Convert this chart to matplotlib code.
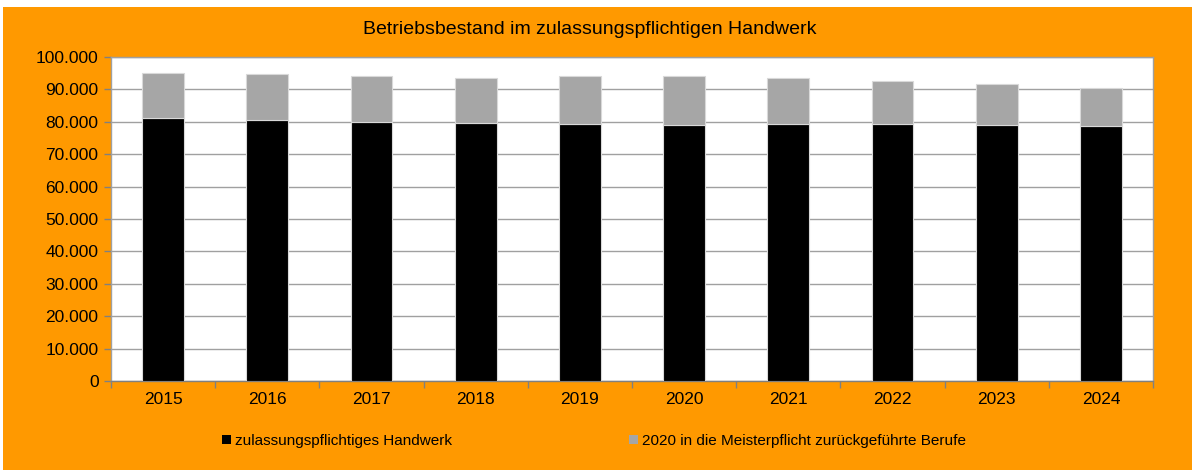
import matplotlib
matplotlib.use("Agg")
import matplotlib.pyplot as plt
from matplotlib.patches import Rectangle, Patch
from matplotlib.ticker import FuncFormatter, MultipleLocator

plt.rcParams['font.family'] = ['Liberation Sans', 'DejaVu Sans']

years = ['2015', '2016', '2017', '2018', '2019', '2020', '2021', '2022', '2023', '2024']
zulassungspflichtig = [81300, 80500, 80000, 79600, 79450, 79150, 79300, 79300, 79100, 78600]
gesamt = [95000, 94600, 94000, 93600, 94100, 94100, 93500, 92600, 91700, 90500]
zurueckgefuehrt = [g - z for g, z in zip(gesamt, zulassungspflichtig)]

title = 'Betriebsbestand im zulassungspflichtigen Handwerk'
label_a = 'zulassungspflichtiges Handwerk'
label_b = '2020 in die Meisterpflicht zurückgeführte Berufe'

ORANGE = '#FF9900'
GREY = '#A6A6A6'
W, H = 1192, 473
fig = plt.figure(figsize=(W / 100, H / 100), dpi=100, facecolor='white')
fig.patches.append(Rectangle((3 / W, 3 / H), (W - 3) / W, (H - 10) / H,
                             transform=fig.transFigure, facecolor=ORANGE,
                             edgecolor='none', zorder=-10))

ax = fig.add_axes([111 / W, (H - 381) / H, (1153 - 111) / W, (381 - 57) / H])
ax.set_zorder(5)
ax.set_facecolor('white')
x = list(range(len(years)))
ax.bar(x, zulassungspflichtig, width=0.4, color='black', edgecolor='#D9D9D9',
       linewidth=0.8, zorder=3)
ax.bar(x, zurueckgefuehrt, width=0.4, bottom=zulassungspflichtig, color=GREY,
       edgecolor='#D9D9D9', linewidth=0.8, zorder=3)

ax.set_xlim(-0.5, len(years) - 0.5)
ax.set_ylim(0, 100000)
ax.yaxis.set_major_locator(MultipleLocator(10000))
ax.yaxis.set_major_formatter(FuncFormatter(lambda v, p: f'{int(v):,}'.replace(',', '.')))
ax.grid(axis='y', color='#A0A0A0', linewidth=1.0, zorder=1)
ax.set_axisbelow(True)

ax.set_xticks(x)
ax.set_xticklabels(years)
ax.tick_params(axis='x', length=0, labelsize=12.5, pad=8)
ax.set_xticks([i - 0.5 for i in range(len(years) + 1)], minor=True)
ax.tick_params(axis='x', which='minor', length=5, color='#808080', width=1)
ax.tick_params(axis='y', length=5, color='#808080', width=1, labelsize=12.5, pad=4)

for s in ax.spines.values():
    s.set_color('#A0A0A0')
    s.set_linewidth(1.0)
ax.spines['bottom'].set_color('#808080')

fig.text(590 / W, 1 - 30 / H, title, ha='center', va='center', fontsize=14, color='black')

h1 = Patch(facecolor='black', edgecolor='none')
h2 = Patch(facecolor=GREY, edgecolor='none')
leg1 = fig.legend([h1], [label_a], loc='center left', bbox_to_anchor=(214 / W, 1 - 441 / H),
                  frameon=False, fontsize=11, handlelength=0.6, handleheight=0.6,
                  handletextpad=0.3, borderpad=0)
leg2 = fig.legend([h2], [label_b], loc='center left', bbox_to_anchor=(621 / W, 1 - 441 / H),
                  frameon=False, fontsize=11, handlelength=0.6, handleheight=0.6,
                  handletextpad=0.3, borderpad=0)

fig.savefig('out.png', dpi=100, facecolor='white')
